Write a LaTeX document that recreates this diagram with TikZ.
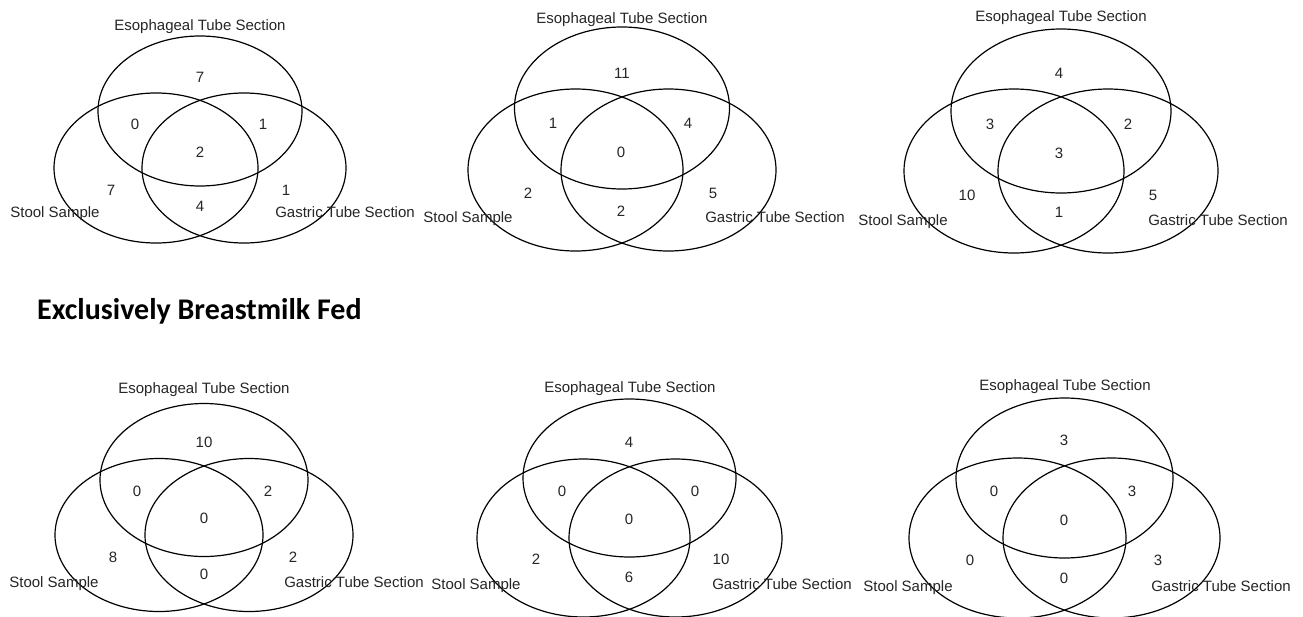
\documentclass[tikz,border=0pt]{standalone}
\usepackage{fontspec}
\setmainfont{Liberation Sans}
\newfontfamily\titlefont{Carlito}
\begin{document}
\begin{tikzpicture}[x=1pt,y=-1pt,
  ring/.style={draw=black, line width=1.2pt},
  lbl/.style={font=\fontsize{15}{18}\selectfont, text=black!85, inner sep=0pt,
              text height=10.7pt, text depth=0pt, anchor=center},
  num/.style={lbl},
  heading/.style={font=\titlefont\bfseries\fontsize{30}{34}\selectfont, text=black,
              inner sep=0pt, text height=19pt, text depth=0pt, anchor=west}]
\useasboundingbox[fill=white] (0,0) rectangle (1303,616);

% three equal ellipses: top centre (cx,cy), lower pair offset by (+-dx,dy)
\newcommand\tripleset[6]{%
  \draw[ring] (#1,#2) ellipse [x radius=#3pt, y radius=#4pt];
  \draw[ring] ({#1-#5},{#2+#6}) ellipse [x radius=#3pt, y radius=#4pt];
  \draw[ring] ({#1+#5},{#2+#6}) ellipse [x radius=#3pt, y radius=#4pt];}

% ---- top row ----
\tripleset{200}{111}{102}{75}{44}{57}
\node[lbl] (a-eso) at (200,25) {Esophageal Tube Section};
\node[lbl] (a-sto) at (55,212) {Stool Sample};
\node[lbl] (a-gas) at (345,212) {Gastric Tube Section};
\node[num] (a1) at (200,77) {7};
\node[num] (a2) at (135,124) {0};
\node[num] (a3) at (263,124) {1};
\node[num] (a4) at (200,152) {2};
\node[num] (a5) at (111,190) {7};
\node[num] (a6) at (286,190) {1};
\node[num] (a7) at (200,206) {4};

\tripleset{622}{108}{107.5}{81}{46.5}{62}
\node[lbl] (b-eso) at (622,18) {Esophageal Tube Section};
\node[lbl] (b-sto) at (468,217) {Stool Sample};
\node[lbl] (b-gas) at (775,217) {Gastric Tube Section};
\node[num] (b1) at (622,73) {11};
\node[num] (b2) at (553,123) {1};
\node[num] (b3) at (688,123) {4};
\node[num] (b4) at (621,152) {0};
\node[num] (b5) at (528,193) {2};
\node[num] (b6) at (713,193) {5};
\node[num] (b7) at (621,211) {2};

\tripleset{1061}{111}{110}{82}{47}{60}
\node[lbl] (c-eso) at (1061,16) {Esophageal Tube Section};
\node[lbl] (c-sto) at (903,220) {Stool Sample};
\node[lbl] (c-gas) at (1218,220) {Gastric Tube Section};
\node[num] (c1) at (1059,73) {4};
\node[num] (c2) at (990,124) {3};
\node[num] (c3) at (1128,124) {2};
\node[num] (c4) at (1059,153) {3};
\node[num] (c5) at (967,195) {10};
\node[num] (c6) at (1153,195) {5};
\node[num] (c7) at (1059,212) {1};

% ---- heading ----
\node[heading] (title) at (37,310) {Exclusively Breastmilk Fed};

% ---- bottom row ----
\tripleset{204}{480}{104}{76.5}{45}{55}
\node[lbl] (d-eso) at (204,388) {Esophageal Tube Section};
\node[lbl] (d-sto) at (54,582) {Stool Sample};
\node[lbl] (d-gas) at (354,582) {Gastric Tube Section};
\node[num] (d1) at (204,442) {10};
\node[num] (d2) at (137,491) {0};
\node[num] (d3) at (268,491) {2};
\node[num] (d4) at (204,518) {0};
\node[num] (d5) at (113,557) {8};
\node[num] (d6) at (293,557) {2};
\node[num] (d7) at (204,574) {0};

\tripleset{629.5}{478}{106.5}{79}{46}{60}
\node[lbl] (e-eso) at (630,387) {Esophageal Tube Section};
\node[lbl] (e-sto) at (476,584) {Stool Sample};
\node[lbl] (e-gas) at (782,584) {Gastric Tube Section};
\node[num] (e1) at (629,442) {4};
\node[num] (e2) at (562,491) {0};
\node[num] (e3) at (695,491) {0};
\node[num] (e4) at (629,519) {0};
\node[num] (e5) at (536,559) {2};
\node[num] (e6) at (721,559) {10};
\node[num] (e7) at (629,577) {6};

\tripleset{1064.5}{478}{108.5}{80}{47}{60}
\node[lbl] (f-eso) at (1065,385) {Esophageal Tube Section};
\node[lbl] (f-sto) at (908,586) {Stool Sample};
\node[lbl] (f-gas) at (1221,586) {Gastric Tube Section};
\node[num] (f1) at (1064,440) {3};
\node[num] (f2) at (994,491) {0};
\node[num] (f3) at (1132,491) {3};
\node[num] (f4) at (1064,520) {0};
\node[num] (f5) at (970,560) {0};
\node[num] (f6) at (1158,560) {3};
\node[num] (f7) at (1064,578) {0};
\end{tikzpicture}
\end{document}
